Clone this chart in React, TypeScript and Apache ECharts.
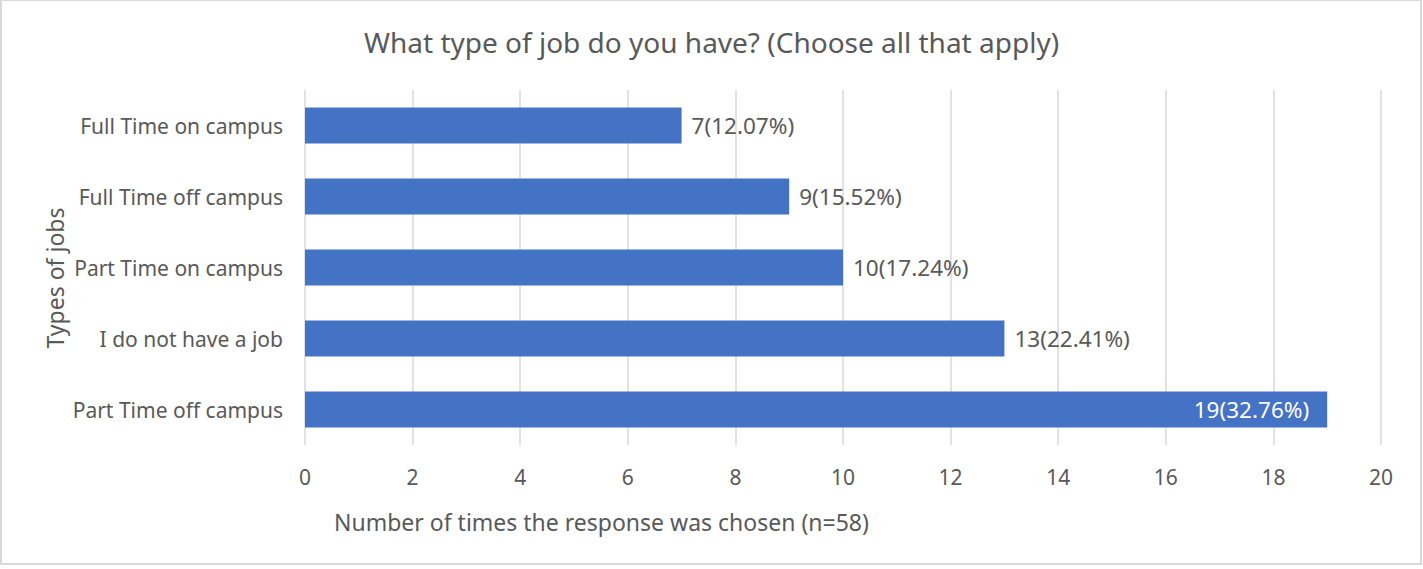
import React, { useEffect, useRef } from "react";
import * as echarts from "echarts";

const categories = [
  "Full Time on campus",
  "Full Time off campus",
  "Part Time on campus",
  "I do not have a job",
  "Part Time off campus",
];
const counts = [7, 9, 10, 13, 19];
const percents = ["12.07%", "15.52%", "17.24%", "22.41%", "32.76%"];
const xTicks = { min: 0, max: 20, interval: 2 };

const titleText = "What type of job do you have? (Choose all that apply)";
const xName = "Number of times the response was chosen (n=58)";
const yName = "Types of jobs";

const FONT = "Noto Sans";
const GREY = "#595959";

export default function App() {
  const ref = useRef<HTMLDivElement>(null);
  useEffect(() => {
    if (!ref.current) return;
    const chart = echarts.init(ref.current, undefined, { renderer: "svg" });
    const data = counts.map((v, i) => {
      const inside = i === counts.length - 1;
      return {
        value: v,
        label: inside
          ? { position: "insideRight", color: "#ffffff", distance: 18 }
          : { position: "right", color: GREY, distance: 10 },
      };
    });
    chart.setOption({
      animation: false,
      textStyle: { fontFamily: FONT },
      title: {
        text: titleText,
        left: "center",
        top: 23,
        textStyle: { fontFamily: FONT, fontSize: 28, fontWeight: "normal", color: GREY },
      },
      grid: { left: 305, right: 42, top: 90, bottom: 124, containLabel: false },
      xAxis: {
        type: "value",
        min: xTicks.min,
        max: xTicks.max,
        interval: xTicks.interval,
        axisLine: { show: false },
        axisTick: { show: false },
        axisLabel: { fontSize: 21, color: GREY, margin: 21, fontFamily: FONT },
        splitLine: { show: true, lineStyle: { color: "#d9d9d9", width: 1.5 } },
      },
      yAxis: {
        type: "category",
        data: categories,
        inverse: true,
        axisLine: { show: false },
        axisTick: { show: false },
        axisLabel: { fontSize: 21, color: GREY, margin: 22, fontFamily: FONT },
      },
      graphic: [
        {
          type: "rect",
          shape: { x: 1, y: 0, width: 1420, height: 564 },
          style: { fill: "none", stroke: "#d9d9d9", lineWidth: 2 },
          silent: true,
        },
        {
          type: "text",
          x: 334,
          y: 522,
          style: {
            text: xName,
            font: `23px "${FONT}"`,
            fill: GREY,
            textAlign: "left",
            textVerticalAlign: "middle",
          },
        },
        {
          type: "text",
          x: 55,
          y: 278,
          rotation: Math.PI / 2,
          style: {
            text: yName,
            font: `23px "${FONT}"`,
            fill: GREY,
            textAlign: "center",
            textVerticalAlign: "middle",
          },
        },
      ],
      series: [
        {
          type: "bar",
          data,
          barWidth: "50.7%",
          itemStyle: { color: "#4472C4" },
          label: {
            show: true,
            fontSize: 22.5,
            fontFamily: FONT,
            formatter: (p: any) => `${p.value}(${percents[p.dataIndex]})`,
          },
        },
      ],
    });
    return () => chart.dispose();
  }, []);
  return (
    <div
      ref={ref}
      style={{ position: "fixed", left: 0, top: 0, width: 1423, height: 569, background: "#fff" }}
    />
  );
}
